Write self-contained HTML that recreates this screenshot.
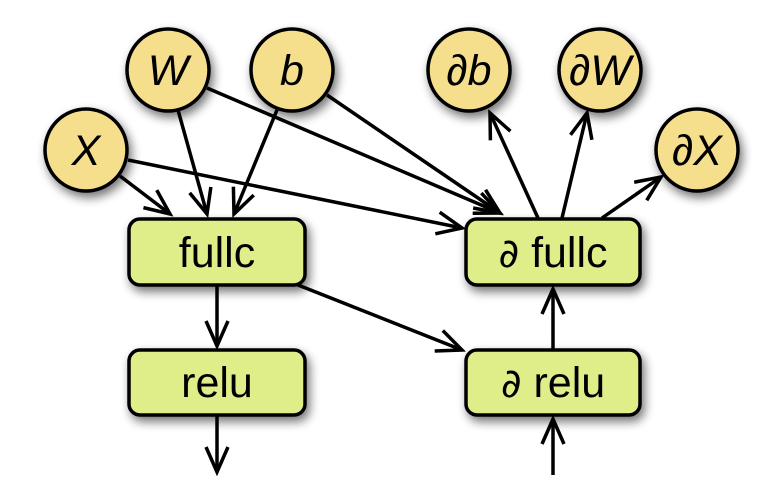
<!DOCTYPE html>
<html><head><style>body{margin:0;background:#fff}svg{display:block}</style></head><body>
<svg width="781" height="490" viewBox="0 0 781 490" xmlns="http://www.w3.org/2000/svg">
<defs>
<filter id="sh" x="-30%" y="-30%" width="160%" height="160%"><feGaussianBlur in="SourceAlpha" stdDeviation="5"/><feOffset dx="3" dy="5"/><feComponentTransfer><feFuncA type="linear" slope="0.55"/></feComponentTransfer><feMerge><feMergeNode/><feMergeNode in="SourceGraphic"/></feMerge></filter>
<marker id="a" markerWidth="32" markerHeight="32" refX="28" refY="16" orient="auto" markerUnits="userSpaceOnUse"><path d="M3,5 L28,16 L3,27" fill="none" stroke="#000" stroke-width="3.5"/></marker>
</defs>
<g stroke="#000" stroke-width="3.5" fill="none" marker-end="url(#a)">
<line x1="120" y1="176" x2="170" y2="214"/>
<line x1="178" y1="110" x2="207" y2="214"/>
<line x1="277" y1="110" x2="234" y2="214"/>
<line x1="207" y1="88" x2="500" y2="213"/>
<line x1="327" y1="95" x2="500" y2="213"/>
<line x1="128" y1="160" x2="462" y2="228"/>
<line x1="298" y1="285" x2="462" y2="350"/>
<line x1="217" y1="285" x2="217" y2="346"/>
<line x1="217" y1="415" x2="217" y2="472"/>
<line x1="553" y1="475" x2="553" y2="419"/>
<line x1="553" y1="350" x2="553" y2="289"/>
<line x1="538" y1="218" x2="490" y2="113"/>
<line x1="562" y1="218" x2="587" y2="113"/>
<line x1="602" y1="218" x2="661" y2="177"/>
</g>
<g filter="url(#sh)" stroke="#000" stroke-width="3.5">
<circle cx="168" cy="70" r="41" fill="#f5df8c"/>
<circle cx="292" cy="70" r="41" fill="#f5df8c"/>
<circle cx="86" cy="150" r="41" fill="#f5df8c"/>
<circle cx="469" cy="70" r="41" fill="#f5df8c"/>
<circle cx="600" cy="70" r="41" fill="#f5df8c"/>
<circle cx="697" cy="150" r="41" fill="#f5df8c"/>
<rect x="129" y="219" width="176" height="66" rx="11" fill="#e0ee8a"/>
<rect x="466" y="219" width="174" height="66" rx="11" fill="#e0ee8a"/>
<rect x="129" y="350" width="176" height="65" rx="11" fill="#e0ee8a"/>
<rect x="466" y="350" width="174" height="65" rx="11" fill="#e0ee8a"/>
</g>
<g font-family="Liberation Sans, sans-serif" font-size="43" text-anchor="middle" fill="#000">
<g font-style="italic">
<text x="168" y="85">W</text>
<text x="292" y="85">b</text>
<text x="86" y="165">X</text>
<text x="469" y="85">∂b</text>
<text x="600" y="85">∂W</text>
<text x="697" y="165">∂X</text>
</g>
<text x="217" y="267">fullc</text>
<text x="553" y="267"><tspan font-family="DejaVu Sans, sans-serif" font-size="40">∂</tspan> fullc</text>
<text x="217" y="397">relu</text>
<text x="553" y="397"><tspan font-family="DejaVu Sans, sans-serif" font-size="40">∂</tspan> relu</text>
</g>
</svg>
</body></html>
